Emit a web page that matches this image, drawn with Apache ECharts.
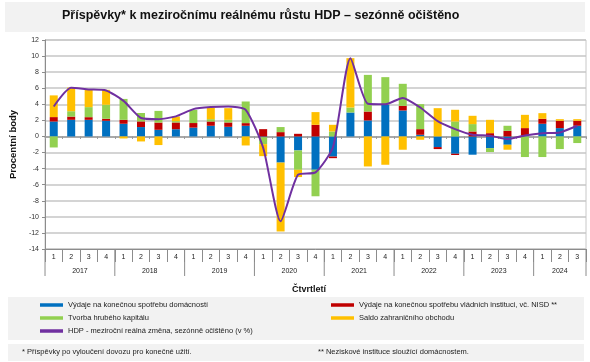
<!DOCTYPE html>
<html>
<head>
<meta charset="utf-8">
<script src="https://cdn.jsdelivr.net/npm/echarts@6/dist/echarts.min.js"></script>
<style>
html,body{margin:0;padding:0;background:#fff;}
#main{width:590px;height:362px;}
</style>
</head>
<body>
<div id="main"></div>
<script>
// ---- data ----
const quarters = ['1','2','3','4','1','2','3','4','1','2','3','4','1','2','3','4','1','2','3','4','1','2','3','4','1','2','3','4','1','2','3'];
const years = ['2017','2018','2019','2020','2021','2022','2023','2024'];
const yearQuarterCounts = [4,4,4,4,4,4,4,3];
const households = [1.86,2.07,2.07,1.95,1.58,1.17,0.83,0.9,1.1,1.33,1.2,1.33,-0.1,-3.25,-1.74,-4.14,-2.5,2.98,1.99,3.94,3.23,0.21,-1.32,-2.15,-2.27,-1.45,-1.03,0.1,1.58,1.04,1.33];
const government = [0.55,0.4,0.33,0.25,0.49,0.7,0.9,0.84,0.57,0.53,0.54,0.33,0.91,0.54,0.33,1.45,-0.2,0,1.11,0,0.58,0.7,-0.25,-0.16,0.62,0.41,0.7,0.94,0.62,0.91,0.62];
const capital = [-1.37,0.67,1.25,1.74,2.6,1.05,1.45,0.17,1.63,0.29,0.33,2.69,-0.85,0.63,-2.4,-3.3,0.62,0.62,4.56,3.44,2.74,3.11,0,1.86,0.92,-0.49,0.63,-2.56,-2.56,-1.57,-0.82];
const tradeBalance = [2.7,2.94,2.15,1.86,-0.25,-0.62,-1.07,0.58,0,1.4,1.45,-1.12,-1.5,-8.57,-0.91,1.58,0.83,6.14,-3.73,-3.52,-1.65,-0.41,3.52,1.46,1.03,1.66,-0.62,1.65,0.7,0.2,0.2];
const gdp = [3.73,6.05,5.85,5.72,4.43,2.3,2.15,2.5,3.4,3.65,3.73,3.32,-1.4,-10.56,-4.76,-4.47,-1.35,9.74,4.06,4.0,4.8,3.6,1.9,0.91,0.21,0.1,-0.33,0.13,0.41,0.5,1.33];
const seriesNames = [
  'Výdaje na konečnou spotřebu domácností',
  'Výdaje na konečnou spotřebu vládních instituci, vč. NISD **',
  'Tvorba hrubého kapitálu',
  'Saldo zahraničního obchodu',
  'HDP - meziroční reálná změna, sezónně očištěno (v %)'
];
const colors = ['#0070C0','#C00000','#92D050','#FFC000','#7030A0'];

const FF = 'Liberation Sans';
const chart = echarts.init(document.getElementById('main'));

function barSeries(i, data){
  return {
    name: seriesNames[i], type:'bar', stack:'s', data: data,
    barWidth: 8, itemStyle:{color: colors[i]}, xAxisIndex:0, yAxisIndex:0, z:3
  };
}
function legendAt(i, left, top){
  return {
    data:[seriesNames[i]], left:left, top:top, icon:'rect', itemWidth:23, itemHeight:3.5, itemGap:5,
    textStyle:{fontFamily:FF, fontSize:7.5, color:'#222'}, selectedMode:false, padding:0
  };
}

const GRID = {left:33, right:4, top:40, bottom:113};

const option = {
  animation:false,
  textStyle:{fontFamily:FF},
  title:{
    text:'Příspěvky* k meziročnímu reálnému růstu HDP – sezónně očištěno',
    left:62, top:9, padding:0,
    textStyle:{fontFamily:FF, fontSize:12.5, fontWeight:'bold', color:'#111'}
  },
  legend:[
    legendAt(0, 40, 301),
    legendAt(1, 331, 301),
    legendAt(2, 40, 314),
    legendAt(3, 331, 314),
    legendAt(4, 40, 327)
  ],
  grid:{left:GRID.left, right:GRID.right, top:GRID.top, bottom:GRID.bottom, show:true, borderColor:'#c8c8c8', borderWidth:1},
  xAxis:[
    {
      type:'category', data:quarters, boundaryGap:true,
      axisLine:{onZero:true, lineStyle:{color:'#9a9a9a', width:1.5}},
      axisTick:{show:true, length:2.5, lineStyle:{color:'#9a9a9a'}},
      axisLabel:{show:false}, splitLine:{show:false}
    },
    {
      type:'category', data:quarters, boundaryGap:true, position:'bottom',
      axisLine:{onZero:false, lineStyle:{color:'#8c8c8c', width:1}},
      axisTick:{show:true, length:13, lineStyle:{color:'#8c8c8c'}},
      axisLabel:{show:true, fontSize:7, color:'#222', margin:5, fontFamily:FF},
      splitLine:{show:false}
    }
  ],
  yAxis:{
    type:'value', min:-14, max:12, interval:2,
    name:'Procentní body', nameLocation:'middle', nameGap:19, nameRotate:90,
    nameTextStyle:{fontFamily:FF, fontSize:9.5, fontWeight:'bold', color:'#111'},
    axisLine:{show:true, lineStyle:{color:'#8c8c8c'}},
    axisTick:{show:true, length:3, lineStyle:{color:'#8c8c8c'}},
    axisLabel:{fontSize:7, color:'#333', margin:6, fontFamily:FF},
    splitLine:{show:true, lineStyle:{color:'#c6c6c6', width:1.6}}
  },
  series:[
    barSeries(0, households),
    barSeries(1, government),
    barSeries(2, capital),
    barSeries(3, tradeBalance),
    {
      name: seriesNames[4], type:'line', data:gdp, smooth:0.2, symbol:'none',
      lineStyle:{color:colors[4], width:2}, itemStyle:{color:colors[4]}, z:5
    }
  ]
};
chart.setOption(option);

// build year labels and year separators from axis pixel positions
const c0 = chart.convertToPixel({xAxisIndex:1}, 0);
const c1 = chart.convertToPixel({xAxisIndex:1}, 1);
const cw = c1 - c0;
const yBottom = chart.convertToPixel({yAxisIndex:0}, -14);
const graphics = [
  {type:'rect', shape:{x:5, y:2, width:580, height:30}, style:{fill:'#f2f2f2'}, z:-10, silent:true},
  {type:'rect', shape:{x:8, y:297, width:576, height:43}, style:{fill:'#f2f2f2'}, z:-10, silent:true},
  {type:'rect', shape:{x:8, y:344, width:576, height:17}, style:{fill:'#f2f2f2'}, z:-10, silent:true},
  {type:'text', left:292, top:285, style:{text:'Čtvrtletí', font:'bold 9px "Liberation Sans"', fill:'#111'}, z:10},
  {type:'text', left:22, top:348, style:{text:'* Příspěvky po vyloučení dovozu pro konečné užití.', font:'7.5px "Liberation Sans"', fill:'#222'}, z:10},
  {type:'text', left:318, top:348, style:{text:'** Neziskové instituce sloužící domácnostem.', font:'7.5px "Liberation Sans"', fill:'#222'}, z:10}
];
let idx = 0;
for (let y = 0; y < years.length; y++) {
  const start = idx, end = idx + yearQuarterCounts[y];
  const xs = chart.convertToPixel({xAxisIndex:1}, start) - cw/2;
  const xe = chart.convertToPixel({xAxisIndex:1}, end - 1) + cw/2;
  graphics.push({type:'line', shape:{x1:xs, y1:yBottom, x2:xs, y2:yBottom+27}, style:{stroke:'#8c8c8c', lineWidth:1}, z:10});
  if (y === years.length - 1) {
    graphics.push({type:'line', shape:{x1:xe, y1:yBottom, x2:xe, y2:yBottom+27}, style:{stroke:'#8c8c8c', lineWidth:1}, z:10});
  }
  graphics.push({type:'text', x:(xs+xe)/2, y:yBottom+22, style:{text:years[y], font:'7px "Liberation Sans"', fill:'#222', textAlign:'center', textVerticalAlign:'middle'}, z:10});
  idx = end;
}
chart.setOption({graphic:graphics});
</script>
</body>
</html>
